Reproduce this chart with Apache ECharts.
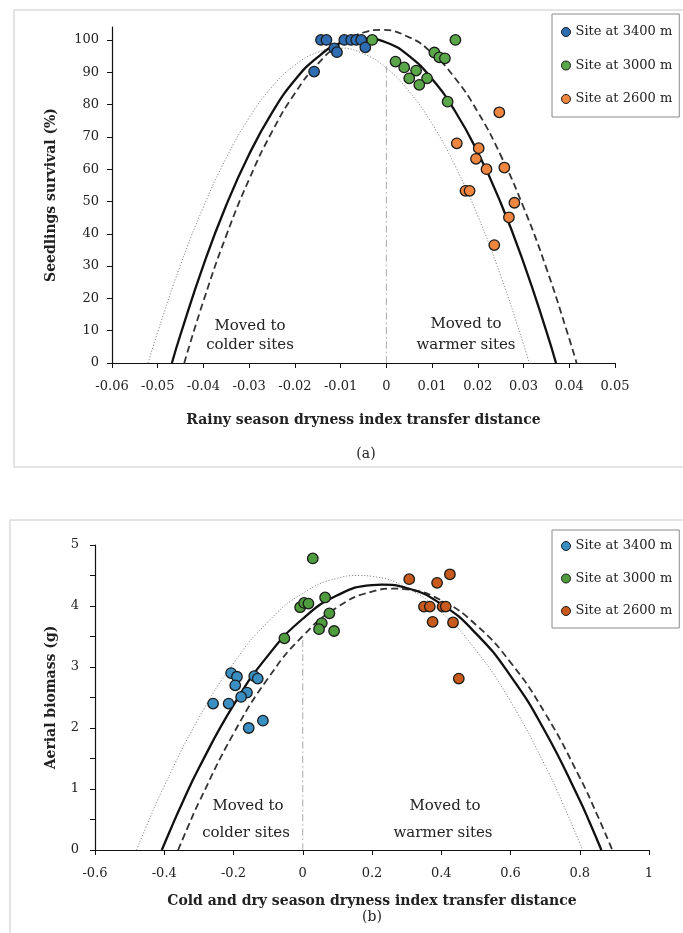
<!DOCTYPE html>
<html>
<head>
<meta charset="utf-8">
<script src="https://cdn.jsdelivr.net/npm/echarts@6/dist/echarts.min.js"></script>
<style>
html,body{margin:0;padding:0;background:#fff;}
#c{width:683px;height:933px;}
</style>
</head>
<body>
<div id="c"></div>
<script>
// ---------- Data: panel (a) ----------
const seriesNames = ['Site at 3400 m', 'Site at 3000 m', 'Site at 2600 m'];

const topBlue = [[-0.0143,100],[-0.0131,100],[-0.0114,97.4],[-0.0108,96.2],[-0.0092,100],[-0.0077,100],[-0.0066,100],[-0.0055,100],[-0.0046,97.7],[-0.0158,90.2]];
const topGreen = [[-0.0031,100],[0.0151,100],[0.0105,96.1],[0.0116,94.6],[0.0128,94.3],[0.002,93.3],[0.0039,91.5],[0.0065,90.5],[0.005,88.1],[0.0089,88.1],[0.0072,86.1],[0.0134,80.9]];
const topOrange = [[0.0247,77.6],[0.0154,68.0],[0.0202,66.5],[0.0196,63.2],[0.0219,60.0],[0.0258,60.5],[0.0173,53.3],[0.0182,53.3],[0.028,49.6],[0.0268,45.1],[0.0236,36.5]];

const topSolid = [[-0.0469,0],[-0.045,8.9],[-0.04,30.3],[-0.035,48.9],[-0.03,64.6],[-0.025,77.5],[-0.02,87.6],[-0.015,94.7],[-0.01,99.1],[-0.0049,100.5],[0,99.2],[0.005,95.0],[0.01,87.9],[0.015,78.0],[0.02,65.2],[0.025,49.6],[0.03,31.1],[0.035,9.8],[0.0371,0]];
const topDashed = [[-0.0442,0],[-0.04,19.2],[-0.035,39.5],[-0.03,56.9],[-0.025,71.6],[-0.02,83.5],[-0.015,92.6],[-0.01,98.8],[-0.005,102.3],[-0.0013,103.1],[0.005,100.8],[0.01,95.9],[0.015,88.2],[0.02,77.7],[0.025,64.3],[0.03,48.2],[0.035,29.3],[0.04,7.5],[0.0416,0]];
const topDotted = [[-0.0521,0],[-0.05,9.6],[-0.045,30.4],[-0.04,48.3],[-0.035,63.5],[-0.03,75.9],[-0.025,85.5],[-0.02,92.2],[-0.015,96.2],[-0.0104,97.5],[-0.005,95.7],[0,91.3],[0.005,84.0],[0.01,74.0],[0.015,61.1],[0.02,45.5],[0.025,27.0],[0.03,5.8],[0.03125,0]];
const topZeroLine = [[0,0],[0,93]];

const topXTicks = [-0.06,-0.05,-0.04,-0.03,-0.02,-0.01,0,0.01,0.02,0.03,0.04,0.05];
const topYTicks = [0,10,20,30,40,50,60,70,80,90,100];

// ---------- Data: panel (b) ----------
const botBlue = [[-0.207,2.90],[-0.19,2.84],[-0.14,2.85],[-0.13,2.81],[-0.195,2.70],[-0.161,2.58],[-0.178,2.51],[-0.259,2.40],[-0.214,2.40],[-0.115,2.12],[-0.156,2.0]];
const botGreen = [[0.029,4.78],[0.0646,4.14],[-0.0075,3.98],[0.004,4.05],[0.0164,4.04],[0.077,3.88],[0.055,3.72],[0.047,3.62],[0.0905,3.59],[-0.053,3.47]];
const botOrange = [[0.3075,4.44],[0.388,4.38],[0.425,4.52],[0.35,3.99],[0.367,3.99],[0.404,3.99],[0.413,3.99],[0.375,3.74],[0.434,3.73],[0.4507,2.81]];

const botSolid = [[-0.407,0],[-0.38,0.362],[-0.35,0.746],[-0.3,1.343],[-0.2,2.375],[-0.1,3.191],[0,3.791],[0.1,4.175],[0.2,4.343],[0.2278,4.35],[0.3,4.295],[0.4,4.031],[0.5,3.551],[0.6,2.855],[0.7,1.943],[0.8,0.815],[0.83,0.434],[0.8625,0]];
const botDashed = [[-0.36,0],[-0.33,0.4],[-0.3,0.781],[-0.2,1.908],[-0.1,2.817],[0,3.508],[0.1,3.981],[0.2,4.236],[0.267,4.285],[0.3,4.273],[0.4,4.092],[0.5,3.693],[0.6,3.076],[0.7,2.241],[0.8,1.189],[0.85,0.58],[0.894,0]];
const botDotted = [[-0.48,0],[-0.45,0.41],[-0.4,1.049],[-0.3,2.164],[-0.2,3.062],[-0.1,3.744],[0,4.208],[0.1,4.455],[0.164,4.5],[0.2,4.486],[0.3,4.299],[0.4,3.896],[0.5,3.275],[0.6,2.437],[0.7,1.383],[0.75,0.774],[0.808,0]];
const botZeroLine = [[0,0],[0,3.5]];

const botXTicks = [-0.6,-0.4,-0.2,0,0.2,0.4,0.6,0.8,1];
const botYTicks = [0,1,2,3,4,5];

// ---------- Styles ----------
const FONT = 'DejaVu Serif';
const TXT = '#222';
const topColors = ['#2f6db3', '#5aa74a', '#ee8640'];
const botColors = ['#3a8fc2', '#4f9c3f', '#c75a1c'];

function axisCommon() {
  return {
    axisLine: { show: true, onZero: false, lineStyle: { color: '#111', width: 1.2 } },
    axisTick: { show: true, inside: false, length: 5, lineStyle: { color: '#111', width: 1 } },
    splitLine: { show: false },
    nameTextStyle: { fontFamily: FONT, fontSize: 14, fontWeight: 'bold', color: TXT }
  };
}

function fmt(v) {
  return String(Math.round(v * 1000) / 1000);
}

function scatter(name, data, color, xi) {
  return {
    type: 'scatter', name: name, data: data, xAxisIndex: xi, yAxisIndex: xi,
    symbol: 'circle', symbolSize: 10.5, z: 5,
    itemStyle: { color: color, borderColor: '#1a1a1a', borderWidth: 1.3, opacity: 1 },
    emphasis: { disabled: true }
  };
}

function curve(data, xi, style) {
  return {
    type: 'line', data: data, xAxisIndex: xi, yAxisIndex: xi,
    showSymbol: false, symbol: 'none', smooth: true, z: 3, silent: true,
    lineStyle: style, emphasis: { disabled: true }
  };
}

function legendFor(top, colors, gap, pad) {
  return {
    orient: 'vertical', left: 552, top: top,
    itemWidth: 9, itemHeight: 9, itemGap: gap,
    padding: pad,
    borderColor: '#8a8a8a', borderWidth: 1, backgroundColor: '#fff',
    icon: 'circle',
    selectedMode: false,
    textStyle: { fontFamily: FONT, fontSize: 13, color: TXT, lineHeight: 14 },
    data: seriesNames.map((n, i) => ({
      name: n,
      itemStyle: { color: colors[i], borderColor: '#1a1a1a', borderWidth: 1 }
    }))
  };
}

const option = {
  backgroundColor: '#fff',
  animation: false,
  grid: [
    { left: 112, top: 27, width: 503, height: 336, containLabel: false },
    { left: 95, top: 545, width: 554, height: 305, containLabel: false }
  ],
  xAxis: [
    Object.assign(axisCommon(), {
      type: 'value', gridIndex: 0, min: -0.06, max: 0.05, interval: 0.01,
      name: 'Rainy season dryness index transfer distance',
      nameLocation: 'middle', nameGap: 50,
      axisLabel: { customValues: topXTicks, formatter: fmt, fontFamily: FONT, fontSize: 13, color: TXT, margin: 17 },
      axisTick: { show: true, customValues: topXTicks, length: 5, lineStyle: { color: '#111', width: 1 } }
    }),
    Object.assign(axisCommon(), {
      type: 'value', gridIndex: 1, min: -0.6, max: 1, interval: 0.2,
      name: 'Cold and dry season dryness index transfer distance',
      nameLocation: 'middle', nameGap: 44,
      axisLabel: { customValues: botXTicks, formatter: fmt, fontFamily: FONT, fontSize: 13, color: TXT, margin: 17 },
      axisTick: { show: true, customValues: botXTicks, length: 5, lineStyle: { color: '#111', width: 1 } }
    })
  ],
  yAxis: [
    Object.assign(axisCommon(), {
      type: 'value', gridIndex: 0, min: 0, max: 104, interval: 10,
      name: 'Seedlings survival (%)',
      nameLocation: 'middle', nameGap: 54, nameRotate: 90,
      axisLabel: { customValues: topYTicks, fontFamily: FONT, fontSize: 13, color: TXT, margin: 13 },
      axisTick: { show: true, customValues: topYTicks, length: 5, lineStyle: { color: '#111', width: 1 } }
    }),
    Object.assign(axisCommon(), {
      type: 'value', gridIndex: 1, min: 0, max: 5, interval: 1,
      name: 'Aerial biomass (g)',
      nameLocation: 'middle', nameGap: 37, nameRotate: 90,
      axisLabel: { customValues: botYTicks, fontFamily: FONT, fontSize: 13, color: TXT, margin: 16 },
      minorTick: { show: true, splitNumber: 2, length: 5, lineStyle: { color: '#111', width: 1 } }
    })
  ],
  legend: [
    legendFor(14, topColors, 19.5, [11, 7, 11, 9]),
    legendFor(530, botColors, 18.5, [9, 7, 10, 9])
  ],
  series: [
    curve(topDotted, 0, { color: '#8a8a8a', width: 1, type: [1.2, 1.8] }),
    curve(topDashed, 0, { color: '#333', width: 1.8, type: [7, 4] }),
    curve(topSolid, 0, { color: '#111', width: 2.3, type: 'solid' }),
    curve(topZeroLine, 0, { color: '#a8a8a8', width: 1, type: [7, 3, 1.5, 3] }),
    scatter(seriesNames[0], topBlue, topColors[0], 0),
    scatter(seriesNames[1], topGreen, topColors[1], 0),
    scatter(seriesNames[2], topOrange, topColors[2], 0),

    curve(botDotted, 1, { color: '#8a8a8a', width: 1, type: [1.2, 1.8] }),
    curve(botDashed, 1, { color: '#333', width: 1.8, type: [7, 4] }),
    curve(botSolid, 1, { color: '#111', width: 2.3, type: 'solid' }),
    curve(botZeroLine, 1, { color: '#a8a8a8', width: 1, type: [7, 3, 1.5, 3] }),
    scatter(seriesNames[0], botBlue, botColors[0], 1),
    scatter(seriesNames[1], botGreen, botColors[1], 1),
    scatter(seriesNames[2], botOrange, botColors[2], 1)
  ],
  graphic: [
    { type: 'rect', z: -1, shape: { x: 14, y: 10, width: 680, height: 457 }, style: { fill: 'none', stroke: '#dcdcdc', lineWidth: 1.5 } },
    { type: 'rect', z: -1, shape: { x: 10, y: 520, width: 690, height: 430 }, style: { fill: 'none', stroke: '#dcdcdc', lineWidth: 1.5 } },
    { type: 'text', style: { text: 'Moved to', x: 250, y: 326, textAlign: 'center', textVerticalAlign: 'middle', font: '15px "DejaVu Serif"', fill: TXT } },
    { type: 'text', style: { text: 'colder sites', x: 250, y: 345, textAlign: 'center', textVerticalAlign: 'middle', font: '15px "DejaVu Serif"', fill: TXT } },
    { type: 'text', style: { text: 'Moved to', x: 466, y: 324, textAlign: 'center', textVerticalAlign: 'middle', font: '15px "DejaVu Serif"', fill: TXT } },
    { type: 'text', style: { text: 'warmer sites', x: 466, y: 345, textAlign: 'center', textVerticalAlign: 'middle', font: '15px "DejaVu Serif"', fill: TXT } },
    { type: 'text', style: { text: '(a)', x: 366, y: 454, textAlign: 'center', textVerticalAlign: 'middle', font: '14px "DejaVu Serif"', fill: TXT } },
    { type: 'text', style: { text: 'Moved to', x: 248, y: 806, textAlign: 'center', textVerticalAlign: 'middle', font: '15px "DejaVu Serif"', fill: TXT } },
    { type: 'text', style: { text: 'colder sites', x: 246, y: 833, textAlign: 'center', textVerticalAlign: 'middle', font: '15px "DejaVu Serif"', fill: TXT } },
    { type: 'text', style: { text: 'Moved to', x: 445, y: 806, textAlign: 'center', textVerticalAlign: 'middle', font: '15px "DejaVu Serif"', fill: TXT } },
    { type: 'text', style: { text: 'warmer sites', x: 443, y: 833, textAlign: 'center', textVerticalAlign: 'middle', font: '15px "DejaVu Serif"', fill: TXT } },
    { type: 'text', style: { text: '(b)', x: 372, y: 917, textAlign: 'center', textVerticalAlign: 'middle', font: '14px "DejaVu Serif"', fill: TXT } }
  ]
};

const chart = echarts.init(document.getElementById('c'), null, { renderer: 'canvas' });
chart.setOption(option);
</script>
</body>
</html>
